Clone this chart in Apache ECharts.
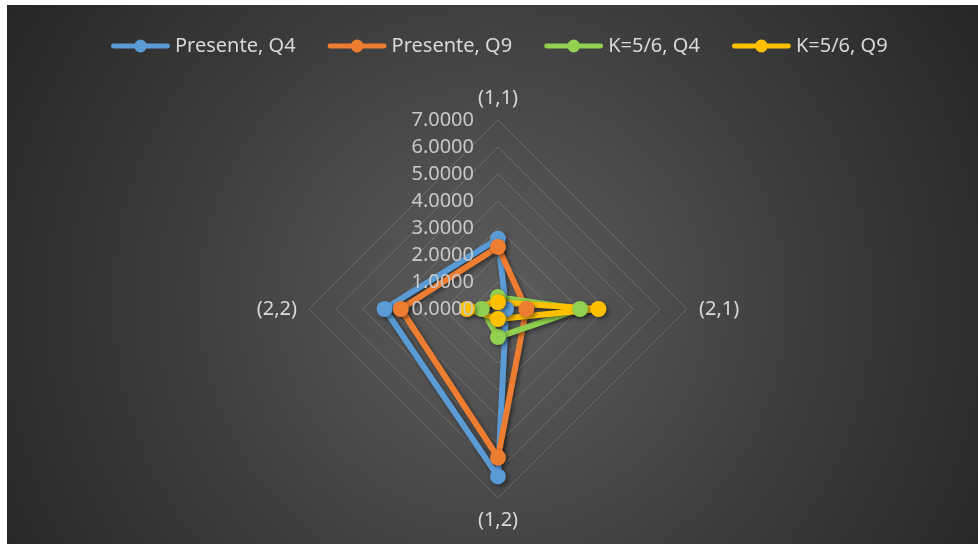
<!DOCTYPE html>
<html>
<head>
<meta charset="utf-8">
<script src="https://cdn.jsdelivr.net/npm/echarts@6/dist/echarts.min.js"></script>
<style>
	html, body { margin: 0; padding: 0; background: #fff; }
	#radar1 {
		position: absolute; left: 7px; top: 5px; width: 971px; height: 539px;
		background: radial-gradient(circle farthest-corner at 50% 55%, #5d5d5d 0%, #3d3d3d 55%, #262626 100%);
	}
</style>
</head>
<body>
<div id="radar1"></div>
<script>
"use strict";

/*-----radar data-----*/
var categories = ['(1,1)', '(2,1)', '(1,2)', '(2,2)'];
var seriesNames = ['Presente, Q4', 'Presente, Q9', 'K=5/6, Q4', 'K=5/6, Q9'];
var presenteQ4 = [2.6, 0.3, 6.2, 4.2];
var presenteQ9 = [2.3, 1.05, 5.5, 3.6];
var kQ4 = [0.44, 3.04, 1.04, 0.6];
var kQ9 = [0.25, 3.72, 0.37, 1.15];
var axisMax = 7;
// echarts goes round counter-clockwise, excel goes clockwise
var order = [0, 3, 2, 1];

var colors = ['#5b9bd5', '#ed7d31', '#92d050', '#ffc000'];
var legendIcon = 'path://M2.5,4 L57.5,4 A2.5,2.5 0 0 1 57.5,9 L2.5,9 A2.5,2.5 0 0 1 2.5,4 Z M36.5,6.5 A6.5,6.5 0 1 1 23.5,6.5 A6.5,6.5 0 1 1 36.5,6.5 Z';

function reorder(arr) {
	return order.map(function (i) { return arr[i]; });
}

// first radar: grid + names, second one on top only for the value labels
function makeIndicators(withLabels) {
	return reorder(categories).map(function (name, i) {
		var ind = { name: name, min: 0, max: axisMax };
		if (!withLabels || i > 0) ind.axisLabel = { show: false };
		return ind;
	});
}

var allValues = [presenteQ4, presenteQ9, kQ4, kQ9];
var series = allValues.map(function (vals, i) {
	return {
		type: 'radar',
		name: seriesNames[i],
		radarIndex: 0,
		symbol: 'circle',
		symbolSize: 16,
		lineStyle: { color: colors[i], width: 6, shadowColor: 'rgba(0,0,0,0.45)', shadowBlur: 4, shadowOffsetX: 2, shadowOffsetY: 2 },
		itemStyle: { color: colors[i], shadowColor: 'rgba(0,0,0,0.45)', shadowBlur: 4, shadowOffsetX: 2, shadowOffsetY: 2 },
		data: [{ name: seriesNames[i], value: reorder(vals) }]
	};
});

var chart = echarts.init(document.getElementById('radar1'));
var option = {
	animation: false,
	color: colors,
	textStyle: { fontFamily: 'Noto Sans' },
	legend: {
		data: seriesNames.map(function (n) { return { name: n, icon: legendIcon }; }),
		left: 99,
		top: 26,
		itemWidth: 59,
		itemHeight: 13,
		itemGap: 32,
		textStyle: { color: '#d9d9d9', fontSize: 20, fontFamily: 'Noto Sans' }
	},
	radar: [{
		center: [491, 304],
		radius: 189,
		splitNumber: 7,
		shape: 'polygon',
		nameGap: 12,
		axisName: { color: '#d9d9d9', fontSize: 20, fontFamily: 'Noto Sans' },
		axisLine: { show: false },
		axisTick: { show: false },
		splitArea: { show: false },
		splitLine: { lineStyle: { color: 'rgba(255,255,255,0.16)', width: 1 } },
		axisLabel: { show: false },
		indicator: makeIndicators(false)
	}, {
		z: 5,
		center: [491, 304],
		radius: 189,
		splitNumber: 7,
		shape: 'polygon',
		axisName: { show: false },
		axisLine: { show: false },
		axisTick: { show: false },
		splitArea: { show: false },
		splitLine: { show: false },
		axisLabel: {
			show: true,
			color: '#c8c8c8',
			fontSize: 20,
			margin: 24,
			fontFamily: 'Noto Sans',
			formatter: function (v) { return v.toFixed(4); }
		},
		indicator: makeIndicators(true)
	}],
	series: series
};
chart.setOption(option);
</script>
</body>
</html>
